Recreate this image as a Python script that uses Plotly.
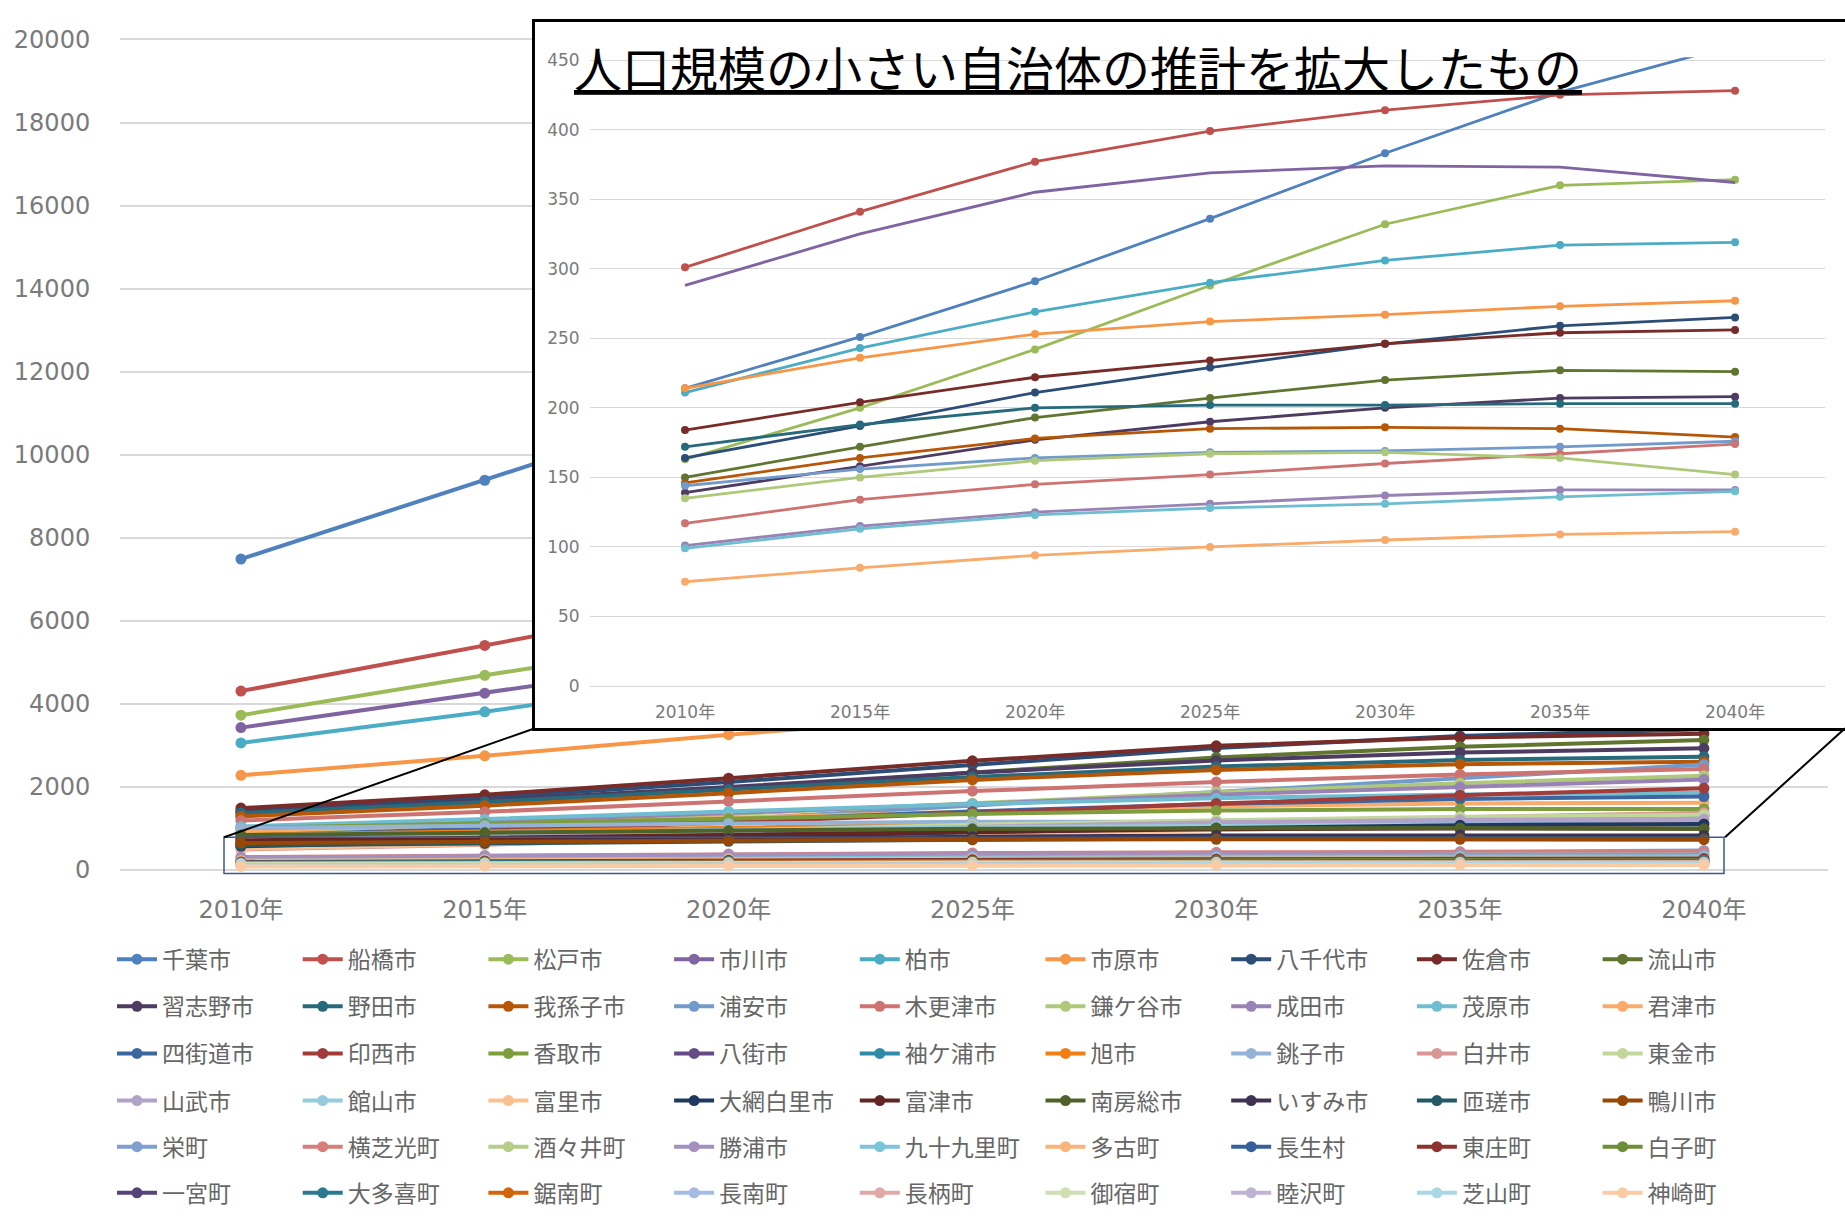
import plotly.graph_objects as go

# ---------------- data ----------------
years = ["2010年", "2015年", "2020年", "2025年", "2030年", "2035年", "2040年"]

row1_names = ["千葉市", "船橋市", "松戸市", "市川市", "柏市", "市原市", "八千代市", "佐倉市", "流山市"]
row1_values = [
    [7480, 9380, 11300, 13100, 14700, 16000, 17200],
    [4300, 5400, 6500, 7500, 8300, 8900, 9300],
    [3720, 4680, 5600, 6400, 7000, 7400, 7600],
    [3420, 4250, 5100, 5900, 6600, 7100, 7500],
    [3050, 3800, 4650, 5400, 6000, 6400, 6600],
    [2270, 2740, 3250, 3700, 4000, 4150, 4200],
    [1420, 1730, 2110, 2530, 2930, 3220, 3380],
    [1480, 1800, 2200, 2620, 2980, 3180, 3270],
    [1300, 1590, 1940, 2340, 2700, 2960, 3120],
]
row2_names = ["習志野市", "野田市", "我孫子市", "浦安市", "木更津市", "鎌ケ谷市", "成田市", "茂原市", "君津市"]
row2_values = [
    [1380, 1660, 1990, 2330, 2630, 2820, 2920],
    [1360, 1630, 1930, 2230, 2480, 2640, 2720],
    [1280, 1540, 1840, 2160, 2400, 2540, 2600],
    [720, 930, 1210, 1540, 1880, 2220, 2530],
    [1180, 1390, 1640, 1890, 2110, 2290, 2420],
    [900, 1090, 1330, 1600, 1860, 2080, 2260],
    [960, 1140, 1360, 1580, 1800, 1990, 2170],
    [1040, 1210, 1400, 1580, 1720, 1810, 1850],
    [930, 1080, 1240, 1400, 1520, 1590, 1610],
]
row3_names = ["四街道市", "印西市", "香取市", "八街市", "袖ケ浦市", "旭市", "銚子市", "白井市", "東金市"]
row3_values = [
    [820, 990, 1190, 1400, 1580, 1700, 1760],
    [770, 930, 1130, 1360, 1590, 1790, 1960],
    [1000, 1110, 1230, 1340, 1420, 1460, 1460],
    [640, 760, 900, 1040, 1160, 1250, 1300],
    [560, 680, 830, 990, 1130, 1240, 1310],
    [840, 920, 1010, 1100, 1170, 1210, 1220],
    [1000, 1060, 1110, 1150, 1160, 1150, 1120],
    [480, 600, 760, 940, 1110, 1260, 1370],
    [680, 800, 940, 1080, 1190, 1270, 1320],
]
row4_names = ["山武市", "館山市", "富里市", "大網白里市", "富津市", "南房総市", "いすみ市", "匝瑳市", "鴨川市"]
row4_values = [
    [700, 810, 930, 1050, 1140, 1200, 1220],
    [820, 890, 960, 1020, 1050, 1060, 1040],
    [500, 600, 720, 850, 960, 1050, 1100],
    [560, 660, 780, 900, 1000, 1070, 1100],
    [700, 770, 850, 920, 970, 990, 980],
    [830, 890, 940, 980, 1000, 1000, 980],
    [620, 680, 740, 790, 820, 830, 820],
    [580, 630, 680, 720, 750, 760, 750],
    [640, 670, 700, 720, 730, 730, 720],
]
row5_names = ["栄町", "横芝光町", "酒々井町", "勝浦市", "九十九里町", "多古町", "長生村", "東庄町", "白子町"]
row5_values = [
    [214, 251, 291, 336, 383, 427, 461],
    [301, 341, 377, 399, 414, 425, 428],
    [163, 200, 242, 288, 332, 360, 364],
    [288, 325, 355, 369, 374, 373, 362],
    [211, 243, 269, 290, 306, 317, 319],
    [214, 236, 253, 262, 267, 273, 277],
    [164, 187, 211, 229, 246, 259, 265],
    [184, 204, 222, 234, 246, 254, 256],
    [150, 172, 193, 207, 220, 227, 226],
]
row6_names = ["一宮町", "大多喜町", "鋸南町", "長南町", "長柄町", "御宿町", "睦沢町", "芝山町", "神崎町"]
row6_values = [
    [139, 158, 177, 190, 200, 207, 208],
    [172, 188, 200, 202, 202, 203, 203],
    [146, 164, 178, 185, 186, 185, 179],
    [144, 156, 164, 168, 169, 172, 176],
    [117, 134, 145, 152, 160, 167, 174],
    [135, 150, 162, 167, 168, 164, 152],
    [101, 115, 125, 131, 137, 141, 141],
    [99, 113, 123, 128, 131, 136, 140],
    [75, 85, 94, 100, 105, 109, 111],
]

inset_title = "人口規模の小さい自治体の推計を拡大したもの"
main_yticks = list(range(0, 20001, 2000))
inset_yticks = list(range(0, 451, 50))

# ---------------- styles ----------------
main_colors = [
    "#4F81BD", "#C0504D", "#9BBB59", "#8064A2", "#4BACC6", "#F79646", "#2C4D75", "#772C2A", "#5F7530",
    "#4D3B62", "#276A7C", "#B65708", "#729ACA", "#CD7371", "#AFC97A", "#9983B5", "#6FBDD1", "#F9AB6B",
    "#3B66A0", "#A23C3A", "#7E9E3E", "#664B85", "#2E8CA8", "#F37F14", "#95B3D7", "#D99694", "#C3D69B",
    "#B3A2C7", "#93CDDD", "#FAC090", "#1F3862", "#632523", "#4F6228", "#3F3151", "#215967", "#974806",
    "#7F9FD0", "#D57E7C", "#B6CD8A", "#A390C1", "#7CC4D8", "#F9B47A", "#35609A", "#8E3230", "#6E8D37",
    "#57437A", "#2B7A91", "#D2660A", "#A4BCDF", "#E2A8A6", "#CFDFB1", "#BEB2D5", "#A8D7E5", "#FBCBA3",
]
inset_colors = [
    "#4F81BD", "#C0504D", "#9BBB59", "#8064A2", "#4BACC6", "#F79646", "#2C4D75", "#772C2A", "#5F7530",
    "#4D3B62", "#276A7C", "#B65708", "#729ACA", "#CD7371", "#AFC97A", "#9983B5", "#6FBDD1", "#F9AB6B",
]

W, H = 1845, 1226
def fx(p):
    return p / W
def fy(p):
    return 1 - p / H

AXIS_GRAY = "#7a7a7a"
GRID = "#d9d9d9"
NUM_FONT = "DejaVu Sans, Noto Sans CJK JP"
JP_FONT = "Noto Sans CJK JP"

fig = go.Figure()

rows = [(row1_names, row1_values), (row2_names, row2_values), (row3_names, row3_values),
        (row4_names, row4_values), (row5_names, row5_values), (row6_names, row6_values)]
k = 0
for r, (names, vals) in enumerate(rows):
    leg = "legend" if r == 0 else f"legend{r + 1}"
    for n, v in zip(names, vals):
        c = main_colors[k]
        fig.add_trace(go.Scatter(
            x=years, y=v, name=n, mode="lines+markers",
            line=dict(color=c, width=4), marker=dict(size=11, color=c),
            legend=leg, xaxis="x", yaxis="y", hoverinfo="skip"))
        k += 1

# empty trace so that the white framed "cover" subplot of the inset exists
fig.add_trace(go.Scatter(x=[], y=[], xaxis="x2", yaxis="y2", showlegend=False, hoverinfo="skip"))

inset_names = row5_names + row6_names
inset_vals = row5_values + row6_values
for i, (n, v) in enumerate(zip(inset_names, inset_vals)):
    c = inset_colors[i]
    fig.add_trace(go.Scatter(
        x=years, y=v, name=n, mode="lines" if n == "勝浦市" else "lines+markers",
        line=dict(color=c, width=2.8), marker=dict(size=8, color=c),
        xaxis="x3", yaxis="y3", showlegend=False, hoverinfo="skip"))

layout = dict(
    width=W, height=H,
    margin=dict(l=0, r=0, t=0, b=0, pad=0),
    paper_bgcolor="white", plot_bgcolor="white",
    showlegend=True,
    xaxis=dict(domain=[fx(120), fx(1828)], anchor="y", type="category",
               range=[-0.496, 6.509], showgrid=False, zeroline=False, showline=False,
               ticks="outside", ticklen=16, tickcolor="rgba(0,0,0,0)",
               tickfont=dict(size=24, color=AXIS_GRAY, family=NUM_FONT), fixedrange=True),
    yaxis=dict(domain=[fy(877.5), fy(26.5)], anchor="x", range=[-60, 20060], tickvals=main_yticks,
               tickformat="d",
               showgrid=True, gridcolor=GRID, gridwidth=1.5,
               zeroline=True, zerolinecolor=GRID, zerolinewidth=1.5, showline=False,
               ticks="outside", ticklen=24, tickcolor="rgba(0,0,0,0)",
               tickfont=dict(size=24, color=AXIS_GRAY, family=NUM_FONT), fixedrange=True),
    # white framed box covering the main chart behind the inset
    xaxis2=dict(domain=[fx(535), 1.0], anchor="y2", range=[0, 1], showgrid=False, zeroline=False,
                showticklabels=False, ticks="", showline=True, mirror=True,
                linecolor="black", linewidth=2.5, fixedrange=True),
    yaxis2=dict(domain=[fy(731), fy(11)], anchor="x2", range=[0, 1], showgrid=False, zeroline=False,
                showticklabels=False, ticks="", showline=True, mirror=False,
                linecolor="black", linewidth=2.5, fixedrange=True),
    # inset chart
    xaxis3=dict(domain=[fx(590), fx(1825)], anchor="y3", type="category",
                range=[-0.543, 6.514], showgrid=False, zeroline=False, showline=False,
                ticks="outside", ticklen=8, tickcolor="rgba(0,0,0,0)",
                tickfont=dict(size=17, color=AXIS_GRAY, family=NUM_FONT), fixedrange=True),
    yaxis3=dict(domain=[fy(690.8), fy(47.2)], anchor="x3", range=[-2, 452], tickvals=inset_yticks,
                tickformat="d",
                showgrid=True, gridcolor=GRID, gridwidth=1.3,
                zeroline=True, zerolinecolor=GRID, zerolinewidth=1.3, showline=False,
                ticks="outside", ticklen=6, tickcolor="rgba(0,0,0,0)",
                tickfont=dict(size=17, color=AXIS_GRAY, family=NUM_FONT), fixedrange=True),
    annotations=[dict(
        text=f"<u>{inset_title}</u>", xref="paper", yref="paper",
        x=fx(572), y=fy(56), xanchor="left", yanchor="middle", showarrow=False,
        font=dict(size=48, color="black", family=JP_FONT))],
    shapes=[
        dict(type="rect", xref="paper", yref="paper", x0=fx(224), x1=fx(1724), y0=fy(879), y1=fy(842),
             line=dict(color="#3A5A8C", width=1.5), fillcolor="rgba(0,0,0,0)", layer="above"),
        dict(type="line", xref="paper", yref="paper", x0=fx(535), y0=fy(731), x1=fx(224), y1=fy(842),
             line=dict(color="black", width=2), layer="above"),
        dict(type="line", xref="paper", yref="paper", x0=fx(1845), y0=fy(731), x1=fx(1725), y1=fy(842),
             line=dict(color="black", width=2), layer="above"),
    ],
)

legend_row_y = [966, 1014, 1062, 1110, 1157, 1204]
for r in range(6):
    key = "legend" if r == 0 else f"legend{r + 1}"
    layout[key] = dict(
        orientation="h", xref="paper", yref="paper",
        x=fx(112), xanchor="left", y=fy(legend_row_y[r] - 21.5), yanchor="top",
        entrywidth=130.7, entrywidthmode="pixels", itemwidth=40,
        font=dict(size=23, color="#666666", family=JP_FONT),
        bgcolor="rgba(0,0,0,0)", borderwidth=0, traceorder="normal")

fig.update_layout(**layout)

fig.write_html("out.html", config={"displayModeBar": False},
               post_script="document.body.style.margin='0';")
